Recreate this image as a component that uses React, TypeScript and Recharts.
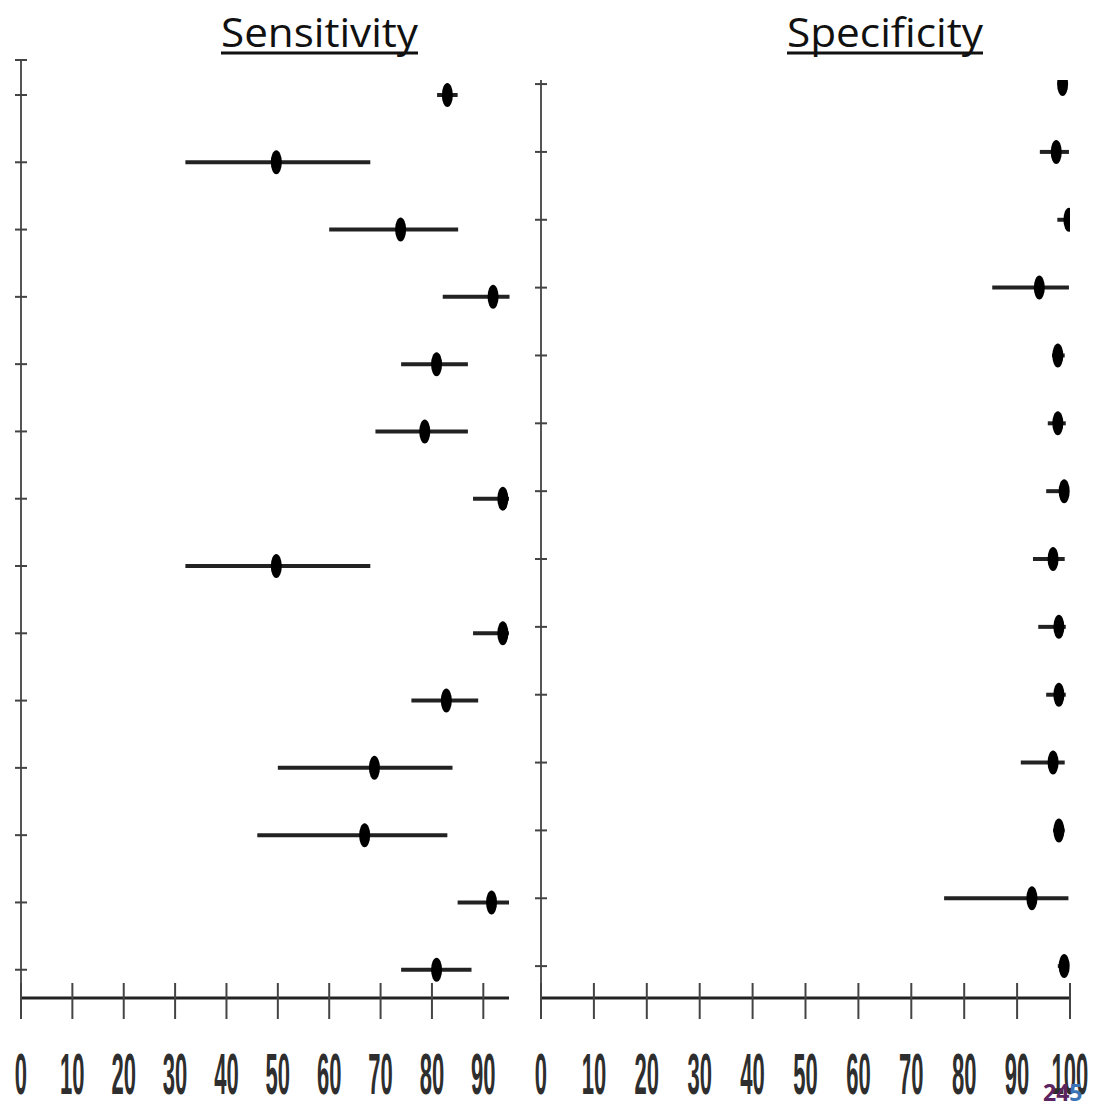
import React from 'react';
import { ScatterChart, Scatter, XAxis, YAxis, ErrorBar } from 'recharts';

// rows numbered from the bottom (1) to the top (14)
const rows = [14, 13, 12, 11, 10, 9, 8, 7, 6, 5, 4, 3, 2, 1];

const sensEst = [83, 49.7, 73.9, 91.9, 80.9, 78.6, 93.8, 49.7, 93.8, 82.8, 68.8, 66.9, 91.6, 80.9];
const sensLow = [81, 32, 60, 82.1, 74, 69, 88, 32, 88, 76, 50, 46, 85, 74];
const sensHigh = [85, 68, 85.1, 95.1, 87, 87, 95, 68, 95, 89, 84, 83, 95, 87.7];

const specEst = [98.6, 97.4, 99.8, 94.2, 97.7, 97.7, 98.9, 96.8, 97.9, 97.9, 96.8, 97.9, 92.8, 98.9];
const specLow = [98.4, 94.3, 97.6, 85.3, 96.6, 95.8, 95.5, 93, 94, 95.5, 90.7, 96.8, 76.2, 97.7];
const specHigh = [98.8, 99.8, 100, 99.8, 99, 99.2, 99.6, 99, 99.2, 99.2, 99, 99, 99.7, 99.6];

const sensTicks = [0, 10, 20, 30, 40, 50, 60, 70, 80, 90];
const specTicks = [0, 10, 20, 30, 40, 50, 60, 70, 80, 90, 100];

const build = (est: number[], lo: number[], hi: number[]) =>
  est.map((v, i) => ({ x: v, y: rows[i], err: [v - lo[i], hi[i] - v] }));

const sensData = build(sensEst, sensLow, sensHigh);
const specData = build(specEst, specLow, specHigh);

const XTick = (props: any) => {
  const { x, y, payload } = props;
  return (
    <g>
      <line x1={x} x2={x} y1={y - 15} y2={y + 21} stroke="#444" strokeWidth={2} />
      <text
        transform={`translate(${x},${y + 96}) scale(0.38,1)`}
        textAnchor="middle"
        fontFamily="Liberation Sans, Arial, sans-serif"
        fontSize={58}
        fontWeight="bold"
        fill="#2e2e2e"
      >
        {payload.value}
      </text>
    </g>
  );
};

const YTick = (props: any) => {
  const { x, y } = props;
  return <line x1={x - 6} x2={x + 6} y1={y} y2={y} stroke="#444" strokeWidth={2} />;
};

const Marker = (props: any) => <ellipse cx={props.cx} cy={props.cy} rx={5.5} ry={12} fill="#000" />;

interface PanelProps {
  data: any[];
  left: number;
  width: number;
  margin: { top: number; right: number; bottom: number; left: number };
  xMax: number;
  xTicks: number[];
  yDomain: [number, number];
  yTicks: number[];
}

const Panel: React.FC<PanelProps> = ({ data, left, width, margin, xMax, xTicks, yDomain, yTicks }) => (
  <div style={{ position: 'absolute', left, top: 0 }}>
    <ScatterChart width={width} height={1105} margin={margin}>
      <XAxis
        type="number"
        dataKey="x"
        domain={[0, xMax]}
        ticks={xTicks}
        allowDataOverflow
        height={20}
        tickSize={0}
        tickMargin={0}
        tickLine={false}
        axisLine={{ stroke: '#222', strokeWidth: 3 }}
        tick={<XTick />}
        interval={0}
      />
      <YAxis
        type="number"
        dataKey="y"
        domain={yDomain}
        ticks={yTicks}
        allowDataOverflow
        width={10}
        tickSize={0}
        tickMargin={0}
        tickLine={false}
        axisLine={{ stroke: '#555', strokeWidth: 2 }}
        tick={<YTick />}
        interval={0}
      />
      <Scatter data={data} shape={<Marker />} isAnimationActive={false}>
        <ErrorBar dataKey="err" direction="x" width={0} stroke="#222" strokeWidth={4} />
      </Scatter>
    </ScatterChart>
  </div>
);

export default function App() {
  const rowTicks = [...rows].reverse();
  return (
    <div style={{ position: 'absolute', left: 0, top: 0, width: 1096, height: 1105, background: '#fff' }}>
      <Panel
        data={sensData}
        left={0}
        width={540}
        margin={{ top: 60, right: 31, bottom: 87, left: 11 }}
        xMax={95}
        xTicks={sensTicks}
        yDomain={[0.58, 14.52]}
        yTicks={rowTicks.concat([14.52])}
      />
      <Panel
        data={specData}
        left={520}
        width={576}
        margin={{ top: 80, right: 26, bottom: 87, left: 11 }}
        xMax={100}
        xTicks={specTicks}
        yDomain={[0.53, 14.06]}
        yTicks={rowTicks}
      />
      <svg width={1096} height={1105} style={{ position: 'absolute', left: 0, top: 0, pointerEvents: 'none' }}>
        <text x={221} y={47} fontFamily="Open Sans, sans-serif" fontSize={40} fill="#111" textLength={197} lengthAdjust="spacingAndGlyphs">
          Sensitivity
        </text>
        <line x1={221} x2={418} y1={53} y2={53} stroke="#111" strokeWidth={3} />
        <text x={787} y={47} fontFamily="Open Sans, sans-serif" fontSize={40} fill="#111" textLength={196} lengthAdjust="spacingAndGlyphs">
          Specificity
        </text>
        <line x1={787} x2={983} y1={53} y2={53} stroke="#111" strokeWidth={3} />
        <text x={1043} y={1101} fontFamily="Open Sans, sans-serif" fontSize={23} fontWeight="bold">
          <tspan fill="#5b2461">24</tspan>
          <tspan fill="#3b73b9">5</tspan>
        </text>
      </svg>
    </div>
  );
}
